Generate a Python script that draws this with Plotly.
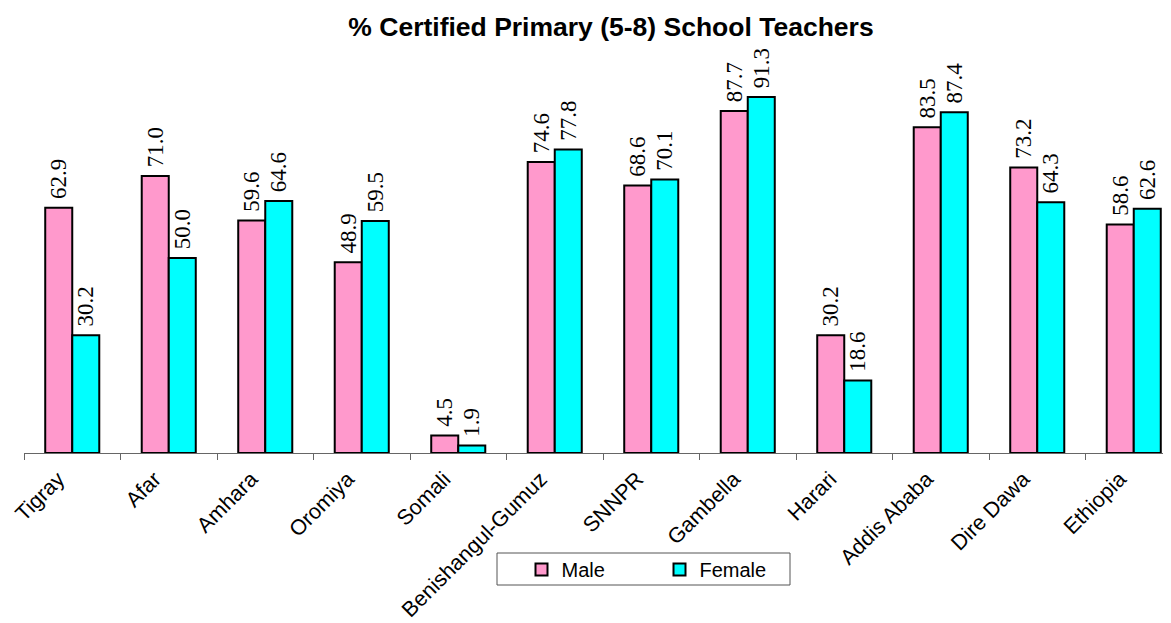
import plotly.graph_objects as go

regions = ["Tigray", "Afar", "Amhara", "Oromiya", "Somali", "Benishangul-Gumuz",
           "SNNPR", "Gambella", "Harari", "Addis Ababa", "Dire Dawa", "Ethiopia"]
male = [62.9, 71.0, 59.6, 48.9, 4.5, 74.6, 68.6, 87.7, 30.2, 83.5, 73.2, 58.6]
female = [30.2, 50.0, 64.6, 59.5, 1.9, 77.8, 70.1, 91.3, 18.6, 87.4, 64.3, 62.6]

label_font = dict(family="Liberation Serif, Times New Roman, serif", size=23, color="black")

fig = go.Figure()
fig.add_trace(go.Bar(
    name="Male", x=regions, y=male,
    marker=dict(color="#FF99CC", line=dict(color="black", width=2)),
    texttemplate="\u00a0%{y:.1f}", textposition="outside", textangle=-90,
    textfont=label_font, constraintext="none", cliponaxis=False,
))
fig.add_trace(go.Bar(
    name="Female", x=regions, y=female,
    marker=dict(color="#00FFFF", line=dict(color="black", width=2)),
    texttemplate="\u00a0%{y:.1f}", textposition="outside", textangle=-90,
    textfont=label_font, constraintext="none", cliponaxis=False,
))

# page body has an 8px margin: work in screen pixels and subtract it
OFF = 8
W, H = 1171 - OFF, 623 - OFF
L = 24 - OFF
T = 63 - OFF
AXIS_Y = 453 - OFF
B = H - AXIS_Y
pw, ph = W - L, H - T - B

def px(x):
    return (x - OFF - L) / pw

def py(y):
    return (AXIS_Y - (y - OFF)) / ph

fig.add_shape(type="rect", xref="paper", yref="paper",
              x0=px(497), x1=px(790), y0=py(585), y1=py(553),
              line=dict(color="#555555", width=1), fillcolor="rgba(0,0,0,0)")

fig.update_layout(
    width=W, height=H,
    margin=dict(l=L, r=0, t=T, b=B, autoexpand=False),
    paper_bgcolor="white", plot_bgcolor="white",
    barmode="group", bargap=0.44, bargroupgap=0,
    title=dict(text="<b>% Certified Primary (5-8) School Teachers</b>",
               x=px(611), xref="paper", xanchor="center",
               y=1 - (27 - OFF) / H, yanchor="middle",
               font=dict(family="Liberation Sans, Arial, sans-serif", size=26.5, color="black")),
    font=dict(family="Liberation Sans, Arial, sans-serif", color="black"),
    showlegend=True,
    legend=dict(orientation="h", x=px(521.5), y=py(550), xanchor="left", yanchor="top",
                borderwidth=0, bgcolor="rgba(0,0,0,0)",
                font=dict(size=20, color="black"), entrywidth=93,
                itemsizing="constant"),
    xaxis=dict(range=[-0.5, 11.386], showline=True, linecolor="#666666", linewidth=1,
               ticks="outside", tickson="boundaries", ticklen=6, tickcolor="#666666",
               tickangle=-45, tickfont=dict(size=21.5, color="black"), showgrid=False,
               ticklabelshift=-14, ticklabelstandoff=4,
               automargin=False),
    yaxis=dict(range=[0, 100], visible=False, showgrid=False, zeroline=False,
               automargin=False),
)

fig.write_html("out.html")
